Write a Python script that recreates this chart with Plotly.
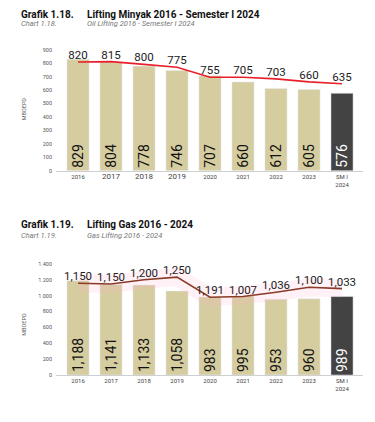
import plotly.graph_objects as go

categories = ["2016", "2017", "2018", "2019", "2020", "2021", "2022", "2023", "SM I 2024"]

oil_bars = [829, 804, 778, 746, 707, 660, 612, 605, 576]
oil_target_labels = ["820", "815", "800", "775", "755", "705", "703", "660", "635"]
oil_target_line = [809, 811, 791, 769, 695, 695, 683, 661, 647]

gas_bars = [1188, 1141, 1133, 1058, 983, 995, 953, 960, 989]
gas_target_labels = ["1,150", "1,150", "1,200", "1,250", "1,191", "1,007", "1,036", "1,100", "1,033"]
gas_target_line = [1156, 1146, 1200, 1233, 980, 988, 1042, 1105, 1088]

oil_yticks = [0, 100, 200, 300, 400, 500, 600, 700, 800, 900]
oil_yticktext = ["0", "100", "200", "300", "400", "500", "600", "700", "800", "900"]
gas_yticks = [0, 200, 400, 600, 800, 1000, 1200, 1400]
gas_yticktext = ["0", "200", "400", "600", "800", "1.000", "1.200", "1.400"]

TAN = "#d5cc9f"
DARK = "#434343"
FONT = "Roboto"

# page body has an 8px margin: work in screen px, convert to figure coords
OFF = 8
W, H = 375 - OFF, 422 - OFF

def px_x(sx):
    return (sx - OFF) / W

def px_y(sy):
    return 1 - (sy - OFF) / H

x = list(range(len(categories)))
bar_colors = [TAN] * (len(categories) - 1) + [DARK]
bar_text_colors = ["#111111"] * (len(categories) - 1) + ["#ffffff"]

def fmt(v):
    return f"{v:,}"

fig = go.Figure()

# Oil chart
fig.add_trace(go.Bar(
    x=x, y=oil_bars, marker_color=bar_colors, width=0.67,
    text=[fmt(v) for v in oil_bars], textposition="inside", insidetextanchor="start",
    textangle=-90, textfont=dict(size=14, color=bar_text_colors, family=FONT),
    xaxis="x", yaxis="y", showlegend=False, hoverinfo="skip", cliponaxis=False,
))
fig.add_trace(go.Scatter(
    x=x, y=oil_target_line, mode="lines+text", line=dict(color="#e8202a", width=1.6),
    text=oil_target_labels, textposition="top center",
    textfont=dict(size=11.5, color="#222222", family=FONT),
    xaxis="x", yaxis="y", showlegend=False, hoverinfo="skip", cliponaxis=False,
))

# Gas chart
fig.add_trace(go.Bar(
    x=x, y=gas_bars, marker_color=bar_colors, width=0.67,
    text=[fmt(v) for v in gas_bars], textposition="inside", insidetextanchor="start",
    textangle=-90, textfont=dict(size=14, color=bar_text_colors, family=FONT),
    xaxis="x2", yaxis="y2", showlegend=False, hoverinfo="skip", cliponaxis=False,
))
fig.add_trace(go.Scatter(
    x=x, y=gas_target_line, mode="lines", line=dict(color="rgba(255,175,200,0.18)", width=18),
    xaxis="x2", yaxis="y2", showlegend=False, hoverinfo="skip",
))
fig.add_trace(go.Scatter(
    x=x, y=gas_target_line, mode="lines+text", line=dict(color="#8a3a26", width=1.6),
    text=gas_target_labels, textposition="top center",
    textfont=dict(size=11.5, color="#222222", family=FONT),
    xaxis="x2", yaxis="y2", showlegend=False, hoverinfo="skip", cliponaxis=False,
))

def ticktext_for(cats, big=()):
    out = []
    for c in cats:
        if c == "SM I 2024":
            out.append('<span style="font-size:6px">SM I<br>2024</span>')
        elif c in big:
            out.append(f'<span style="font-size:8px">{c}</span>')
        else:
            out.append(c)
    return out

xr = [-0.667, 8.636]
xdom = [px_x(56), px_x(363)]
common_x = dict(
    range=xr, domain=xdom, tickmode="array", tickvals=x,
    showgrid=False, zeroline=False, showline=True, linecolor="#cfcfcf", linewidth=1,
    ticks="", tickfont=dict(size=6, color="#444444", family=FONT), fixedrange=True,
)
fig.update_layout(
    width=W, height=H,
    margin=dict(l=0, r=0, t=0, b=0),
    paper_bgcolor="white", plot_bgcolor="white",
    font=dict(family=FONT),
    xaxis=dict(**common_x, anchor="y", ticktext=ticktext_for(categories, big=("2017", "2018", "2019"))),
    yaxis=dict(domain=[px_y(172), px_y(42)], range=[0, 959],
               tickmode="array", tickvals=oil_yticks, ticktext=oil_yticktext,
               showgrid=False, zeroline=False, showline=False, anchor="x",
               tickfont=dict(size=5.5, color="#555555", family=FONT), ticklabelstandoff=3),
    xaxis2=dict(**common_x, anchor="y2", ticktext=ticktext_for(categories)),
    yaxis2=dict(domain=[px_y(377.7), px_y(263)], range=[0, 1434],
                tickmode="array", tickvals=gas_yticks, ticktext=gas_yticktext,
                showgrid=False, zeroline=False, showline=False, anchor="x2",
                tickfont=dict(size=5.5, color="#555555", family=FONT), ticklabelstandoff=3),
)

# titles: first chart's title sits at the very top of the figure
titles = [
    dict(text="<b>Grafik 1.18.</b>", x=20, top=True),
    dict(text="<b>Lifting Minyak 2016 - Semester I 2024</b>", x=86, top=True),
    dict(text="<b>Grafik 1.19.</b>", x=20, y=226),
    dict(text="<b>Lifting Gas 2016 - 2024</b>", x=86, y=226),
]
for a in titles:
    if a.get("top"):
        yy, yanc = 1.0, "top"
    else:
        yy, yanc = px_y(a["y"]), "middle"
    fig.add_annotation(text=a["text"], x=px_x(a["x"]), y=yy, xref="paper", yref="paper",
                       xanchor="left", yanchor=yanc, showarrow=False, borderpad=0,
                       font=dict(size=10, color="#111111", family=FONT))

subs = [
    dict(text="<i>Chart 1.18.</i>", x=20, y=24),
    dict(text="<i>Oil Lifting 2016 - Semester I 2024</i>", x=86, y=24),
    dict(text="<i>Chart 1.19.</i>", x=20, y=237),
    dict(text="<i>Gas Lifting 2016 - 2024</i>", x=86, y=237),
]
for a in subs:
    fig.add_annotation(text=a["text"], x=px_x(a["x"]), y=px_y(a["y"]), xref="paper", yref="paper",
                       xanchor="left", yanchor="middle", showarrow=False, borderpad=0,
                       font=dict(size=7.5, color="#777777", family=FONT))

for yy in [110, 327]:
    fig.add_annotation(text="MBOEPD", x=px_x(24), y=px_y(yy), xref="paper", yref="paper",
                       textangle=-90, showarrow=False, xanchor="center", yanchor="middle",
                       font=dict(size=5.5, color="#555555", family=FONT))

fig.write_html("out.html")
